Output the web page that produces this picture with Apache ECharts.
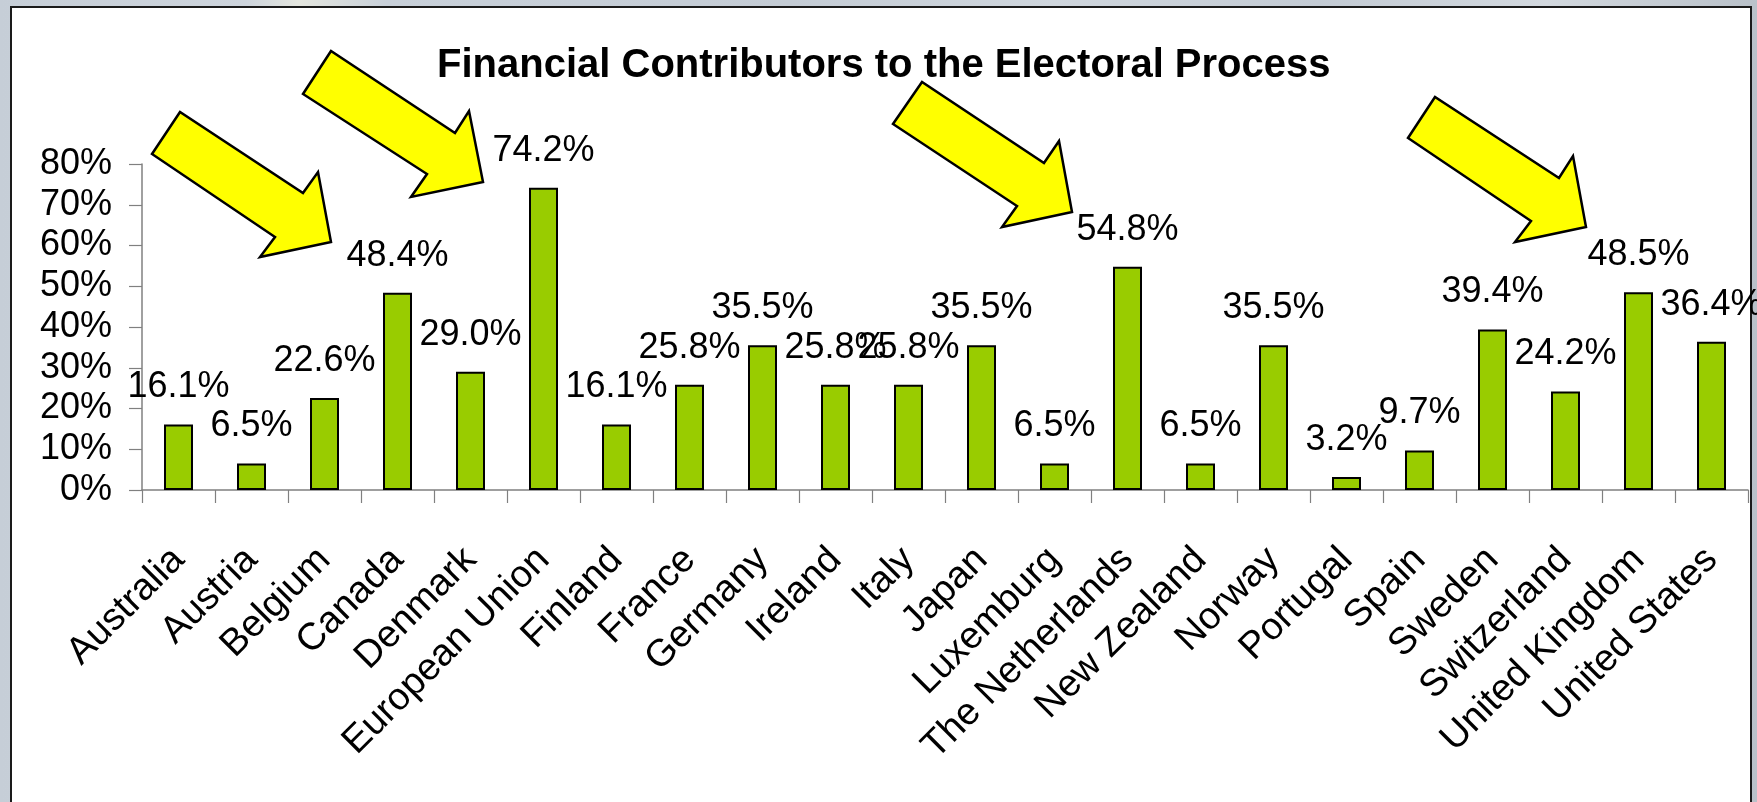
<!DOCTYPE html>
<html>
<head>
<meta charset="utf-8">
<script src="https://cdn.jsdelivr.net/npm/echarts@6/dist/echarts.min.js"></script>
<style>
  html, body { margin: 0; padding: 0; }
  body {
    width: 1757px; height: 802px; overflow: hidden;
    background: linear-gradient(to right, #c6ced7 0%, #cdd4dc 14%, #e4e6df 17%, #c8d0d9 22%, #c4ccd5 45%, #cfd6dd 60%, #c3cbd4 75%, #d2d8de 88%, #b9c1c9 100%);
  }
  #chart { position: absolute; left: 0; top: 0; width: 1757px; height: 802px; }
</style>
</head>
<body>
<div id="chart"></div>
<script>
const categories = ['Australia', 'Austria', 'Belgium', 'Canada', 'Denmark', 'European Union', 'Finland', 'France', 'Germany', 'Ireland', 'Italy', 'Japan', 'Luxemburg', 'The Netherlands', 'New Zealand', 'Norway', 'Portugal', 'Spain', 'Sweden', 'Switzerland', 'United Kingdom', 'United States'];
const values = [16.1, 6.5, 22.6, 48.4, 29.0, 74.2, 16.1, 25.8, 35.5, 25.8, 25.8, 35.5, 6.5, 54.8, 6.5, 35.5, 3.2, 9.7, 39.4, 24.2, 48.5, 36.4];
const yMin = 0, yMax = 80, yInterval = 10;
const titleText = 'Financial Contributors to the Electoral Process';

const FONT = "'Liberation Sans', Arial, Helvetica, sans-serif";

function arrow(points) {
  return {
    type: 'polygon',
    z: 100,
    shape: { points: points },
    style: { fill: '#ffff00', stroke: '#000000', lineWidth: 2.5, lineJoin: 'miter' }
  };
}

const chart = echarts.init(document.getElementById('chart'), null, { renderer: 'canvas' });
chart.setOption({
  animation: false,
  backgroundColor: 'transparent',
  title: {
    text: titleText,
    left: 437,
    top: 46,
    padding: 0,
    textStyle: { fontFamily: FONT, fontSize: 40, fontWeight: 'bold', color: '#000', lineHeight: 40 }
  },
  graphic: [
    {
      type: 'rect',
      z: -100,
      silent: true,
      shape: { x: 11, y: 7, width: 1740, height: 810 },
      style: { fill: '#ffffff', stroke: '#1a1a1a', lineWidth: 2 }
    },
    arrow([[180, 112], [152, 154], [275, 237], [260, 257], [331, 242], [318, 172], [303, 193]]),
    arrow([[331, 51], [303, 94], [427, 174], [411, 197], [483, 182], [469, 111], [455, 133]]),
    arrow([[922, 82], [893, 124], [1017, 206], [1002, 227], [1072, 212], [1059, 141], [1044, 163]]),
    arrow([[1435, 97], [1408, 138], [1531, 221], [1515, 242], [1586, 227], [1573, 156], [1559, 178]])
  ],
  grid: { left: 142, right: 9, top: 164, bottom: 312, containLabel: false },
  xAxis: {
    type: 'category',
    data: categories,
    boundaryGap: true,
    axisLine: { show: true, lineStyle: { color: '#808080', width: 1.5 } },
    axisTick: { show: true, length: 13, alignWithLabel: false, interval: 0, lineStyle: { color: '#808080', width: 1.2 } },
    axisLabel: {
      interval: 0,
      rotate: 45,
      margin: 64,
      fontFamily: FONT,
      fontSize: 38,
      color: '#000'
    },
    splitLine: { show: false }
  },
  yAxis: {
    type: 'value',
    min: yMin,
    max: yMax,
    interval: yInterval,
    axisLine: { show: true, lineStyle: { color: '#808080', width: 1.5 } },
    axisTick: { show: true, length: 13, lineStyle: { color: '#808080', width: 1.2 } },
    axisLabel: {
      margin: 30,
      fontFamily: FONT,
      fontSize: 36,
      color: '#000',
      formatter: '{value}%'
    },
    splitLine: { show: false }
  },
  series: [{
    type: 'bar',
    data: values,
    barWidth: 29,
    itemStyle: { color: '#99cc00', borderColor: '#000000', borderWidth: 2 },
    label: {
      show: true,
      position: 'top',
      distance: 19,
      fontFamily: FONT,
      fontSize: 36,
      lineHeight: 36,
      color: '#000',
      formatter: function (p) { return p.value.toFixed(1) + '%'; }
    },
    labelLayout: { hideOverlap: false }
  }]
});
</script>
</body>
</html>
